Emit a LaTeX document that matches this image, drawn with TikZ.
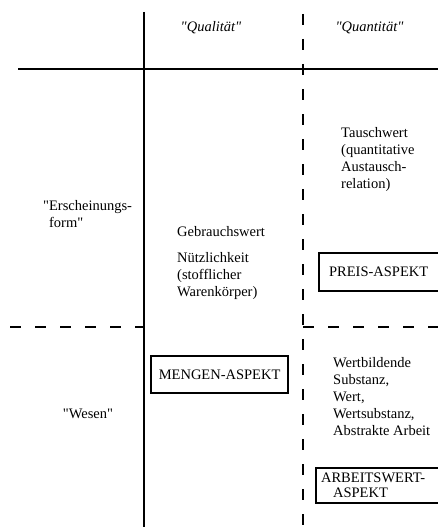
\documentclass[tikz,border=0pt]{standalone}
\usepackage{fontspec}
\setmainfont{Liberation Serif}[Ligatures=TeXOff]
\begin{document}
\begin{tikzpicture}[x=1pt,y=-1pt,
  txt/.style={inner sep=0pt, font=\fontsize{14.5}{17}\selectfont, align=left},
  abox/.style={draw, line width=2.2pt, inner ysep=0pt, font=\fontsize{14.5}{15}\selectfont},
  rule/.style={line width=1.4pt},
  dline/.style={line width=1.4pt, dash pattern=on 11pt off 14pt}]
\useasboundingbox (0,0) rectangle (438,527);
% grid lines
\coordinate (vtop) at (144,12);
\coordinate (vbot) at (144,527);
\coordinate (dtop) at (303,14);
\coordinate (dbot) at (303,527);
\coordinate (hl) at (18,69);
\coordinate (hr) at (438,69);
\coordinate (dl) at (10,327);
\coordinate (dm) at (144,327);
\coordinate (dn) at (303,327);
\coordinate (dr) at (440,327);
\draw[rule] (vtop) -- (vbot);
\draw[rule] (hl) -- (hr);
\draw[dline] (dtop) -- (dbot);
\draw[dline] (dl) -- (dm);
\draw[dline] (dn) -- (dr);
% texts
\node[txt, anchor=base] (qual) at (211,32) {\itshape"Qualität"};
\node[txt, anchor=base] (quant) at (369.5,32) {\itshape"Quantität"};
\node[txt, anchor=north west] (tausch) at (341,127) {Tauschwert\\(quantitative\\Austausch-\\relation)};
\node[txt, anchor=north west] (ersch) at (43,200) {"Erscheinungs-\\\phantom{"}form"};
\node[txt, anchor=base west] (gebr) at (177,236) {Gebrauchswert};
\node[txt, anchor=north west] (nuetz) at (177,252) {Nützlichkeit\\(stofflicher\\Warenkörper)};
\node[abox, anchor=north west, minimum width=124pt, minimum height=38pt, text width=104pt, inner xsep=10pt, align=left] (preis) at (318,252) {PREIS-ASPEKT};
\node[abox, anchor=north west, minimum width=137pt, minimum height=37pt] (menge) at (150,355) {MENGEN-ASPEKT};
\node[txt, anchor=north west] (wert) at (333,357) {Wertbildende\\Substanz,\\Wert,\\Wertsubstanz,\\Abstrakte Arbeit};
\node[txt, anchor=base] (wesen) at (88,418) {"Wesen"};
\node[abox, anchor=north west, minimum width=127pt, minimum height=35pt, text width=117pt, inner xsep=5pt, align=left] (arb) at (315,467) {ARBEITSWERT-\\\hspace*{12pt}ASPEKT};
\end{tikzpicture}
\end{document}
